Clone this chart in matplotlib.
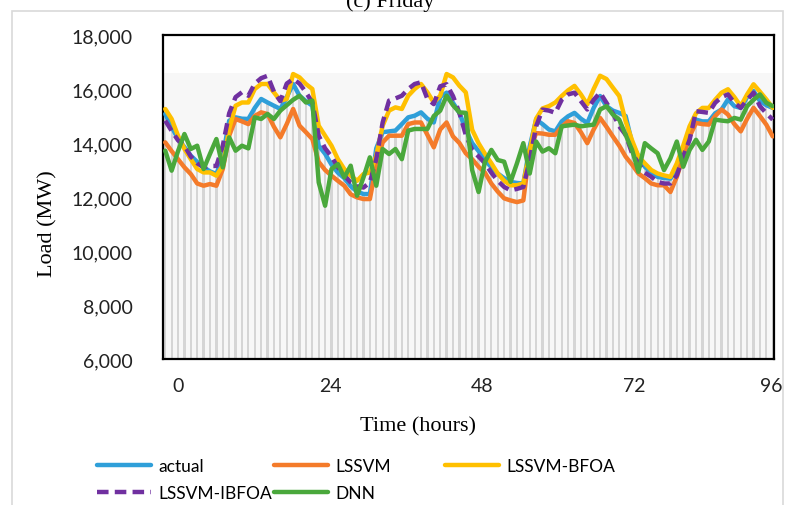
import numpy as np
import matplotlib
matplotlib.use("Agg")
import matplotlib.pyplot as plt
from matplotlib.lines import Line2D
from matplotlib.patches import Rectangle
from matplotlib.ticker import FuncFormatter

# ---------------- data ----------------
hours = list(range(96))
tick_labels = ["0", "24", "48", "72", "96"]
tick_positions = [2, 25.8, 49.6, 73.4, 94.8]
band_top = 16600

actual = [15073, 14600, 14147, 13850, 13530, 13300, 13100, 12950, 12850, 13500,
          14826, 14950, 14900, 14890, 15300, 15630, 15500, 15380, 15260, 15700,
          16185, 15750, 15550, 15380, 13900, 13600, 13200, 12900, 12700, 12400,
          12200, 12110, 12110, 13800, 14400, 14430, 14460, 14700, 14950, 15010,
          15135, 14900, 14760, 15700, 15864, 15490, 15116, 14500, 13994, 13700,
          13370, 13100, 12870, 12700, 12560, 12520, 12500, 13870, 14866, 14700,
          14500, 14430, 14800, 14990, 15116, 14900, 14740, 15300, 15740, 15365,
          15200, 15116, 15000, 14000, 13500, 13120, 12900, 12745, 12700, 12680,
          13000, 13370, 14500, 14866, 14800, 14800, 15100, 15240, 15615, 15365,
          15300, 15700, 15926, 15553, 15400, 15300]

lssvm = [14024, 13700, 13400, 13100, 12850, 12500, 12418, 12480, 12418, 13035,
         14270, 14890, 14800, 14700, 15000, 15135, 15073, 14600, 14210, 14700,
         15260, 14640, 14400, 14147, 13300, 13000, 12790, 12600, 12418, 12100,
         11986, 11924, 11924, 13160, 14024, 14270, 14270, 14270, 14700, 14760,
         14760, 14300, 13840, 14500, 14760, 14243, 14000, 13620, 13400, 13120,
         12900, 12497, 12200, 11950, 11873, 11811, 11873, 13744, 14367, 14350,
         14305, 14305, 14600, 14804, 14742, 14400, 13994, 14500, 14929, 14600,
         14243, 13900, 13495, 13200, 12870, 12700, 12500, 12435, 12435, 12185,
         12745, 13500, 14243, 14742, 14700, 14680, 15000, 15240, 15054, 14700,
         14430, 14900, 15303, 15000, 14680, 14243]

lssvm_bfoa = [15260, 14890, 14270, 13780, 13400, 13035, 12910, 12910, 12790, 13160,
              14520, 15380, 15500, 15500, 16000, 16185, 16185, 15875, 15570, 15630,
              16555, 16430, 16185, 16000, 14640, 14270, 13900, 13400, 13035, 12790,
              12600, 12850, 12910, 13530, 14640, 15200, 15320, 15260, 15750, 16000,
              16185, 15875, 15500, 15750, 16555, 16430, 16120, 15875, 14490, 13990,
              13600, 13250, 12870, 12600, 12435, 12435, 12500, 13700, 14900, 15280,
              15365, 15500, 15740, 15950, 16115, 15800, 15430, 16000, 16490, 16370,
              16050, 15740, 14800, 14100, 13500, 13245, 13000, 12870, 12800, 12745,
              13245, 13900, 14620, 15100, 15300, 15300, 15600, 15864, 15990, 15700,
              15365, 15800, 16175, 15900, 15615, 15300]

lssvm_ibfoa = [14826, 14450, 14100, 13900, 13500, 13250, 13100, 13150, 13150, 13900,
               15100, 15700, 15880, 15750, 16200, 16400, 16490, 15900, 15550, 16200,
               16370, 16200, 15880, 15500, 14270, 13800, 13500, 13100, 12800, 12540,
               12400, 12350, 12540, 13400, 14760, 15570, 15650, 15750, 16000, 16185,
               16250, 15630, 15440, 16100, 16176, 15740, 15116, 14300, 13744, 13500,
               13250, 12900, 12600, 12372, 12247, 12300, 12372, 13370, 14617, 15240,
               15200, 15116, 15600, 15800, 15864, 15550, 15240, 15600, 15864, 15490,
               15100, 14617, 14300, 13620, 13250, 12900, 12750, 12560, 12500, 12500,
               12800, 13500, 14118, 15178, 15150, 15116, 15490, 15700, 15800, 15490,
               15300, 15600, 15864, 15365, 15100, 14866]

dnn = [13715, 12975, 13700, 14333, 13777, 13900, 13035, 13600, 14147, 13097,
       14210, 13715, 13900, 13800, 14950, 14890, 15073, 14890, 15197, 15400,
       15600, 15750, 15500, 15570, 12540, 11677, 13035, 13220, 12727, 13160,
       12048, 12727, 13470, 12418, 13777, 13592, 13777, 13400, 14460, 14520,
       14520, 14520, 15000, 15197, 15750, 15400, 15135, 15116, 12996, 12185,
       13300, 13744, 13370, 13308, 12560, 13245, 13994, 12870, 14055, 13682,
       13806, 13620, 14617, 14650, 14680, 14617, 14650, 14680, 15240, 15365,
       15054, 14866, 14300, 13744, 12933, 13994, 13800, 13620, 12996, 13432,
       14055, 13120, 13744, 14118, 13744, 14055, 14866, 14830, 14804, 14929,
       14866, 15365, 15600, 15800, 15490, 15365]

series_names = ["actual", "LSSVM", "LSSVM-BFOA", "LSSVM-IBFOA", "DNN"]

# ---------------- style ----------------
colors = {"actual": "#2f9fd9", "LSSVM": "#f47b2a", "LSSVM-BFOA": "#ffc000",
          "LSSVM-IBFOA": "#7030a0", "DNN": "#4aa83c"}
styles = {"actual": "-", "LSSVM": "-", "LSSVM-BFOA": "-",
          "LSSVM-IBFOA": (0, (2.6, 1.4)), "DNN": "-"}
LW = 3.2

W, H = 788, 506
fig = plt.figure(figsize=(W / 100, H / 100), dpi=100)
ax = fig.add_axes([163 / W, 1 - 360 / H, (774 - 163) / W, (360 - 36) / H])

# outer light frame
fig.patches.append(Rectangle((12 / W, -0.1), (783 - 12) / W, 1.1 - 12 / H,
                             transform=fig.transFigure, fill=False,
                             edgecolor="#d9d9d9", lw=1.2, zorder=0))

# title (partly cut off at the top of the image, as in the source)
fig.text(390 / W, 1 - 7 / H, "(c) Friday", ha="center", va="baseline",
         fontsize=16, family="Liberation Serif")

x = np.array(hours)
ax.axhspan(6000, band_top, color="#f7f7f7", zorder=0, lw=0)
ax.bar(x, actual, width=0.35, bottom=0, color="#d5d5d5", zorder=1, lw=0)

data = {"actual": actual, "LSSVM": lssvm, "LSSVM-BFOA": lssvm_bfoa,
        "LSSVM-IBFOA": lssvm_ibfoa, "DNN": dnn}
for i, name in enumerate(series_names):
    ax.plot(x, data[name], color=colors[name], lw=LW,
            linestyle=styles[name], solid_capstyle="round",
            dash_capstyle="butt", solid_joinstyle="round", zorder=3 + i)

ax.set_xlim(-0.35, 95.2)
ax.set_ylim(6000, 18000)
ax.set_yticks(np.arange(6000, 18001, 2000))
ax.yaxis.set_major_formatter(FuncFormatter(lambda v, p: f"{int(v):,}"))
ax.set_xticks(tick_positions)
ax.set_xticklabels(tick_labels)
ax.tick_params(axis="both", length=0, labelsize=14)
ax.tick_params(axis="y", pad=22)
ax.tick_params(axis="x", pad=13)
for lab in ax.get_xticklabels() + ax.get_yticklabels():
    lab.set_family("Lato")
    lab.set_color("#222222")
for sp in ax.spines.values():
    sp.set_linewidth(1.6)
    sp.set_color("black")

ax.set_ylabel("Load (MW)", fontsize=16, family="Liberation Serif")
ax.yaxis.set_label_coords(-0.172, 0.42)
ax.set_xlabel("Time (hours)", fontsize=16, family="Liberation Serif")
ax.xaxis.set_label_coords(0.418, -0.178)

# legend laid out in three columns like the original
col_x = [97, 274, 445]
rows = [["actual", "LSSVM-IBFOA"], ["LSSVM", "DNN"], ["LSSVM-BFOA"]]
for cx, names in zip(col_x, rows):
    hs = [Line2D([0], [0], color=colors[n], lw=LW, linestyle=styles[n],
                 solid_capstyle="round") for n in names]
    fig.legend(hs, names, loc="upper left", bbox_to_anchor=(cx / W, 1 - 459 / H),
               frameon=False, prop={"family": "Lato", "size": 12.5},
               handlelength=3.1, handletextpad=0.45, labelspacing=0.62,
               borderaxespad=0, borderpad=0)

fig.savefig("out.png", dpi=100)
